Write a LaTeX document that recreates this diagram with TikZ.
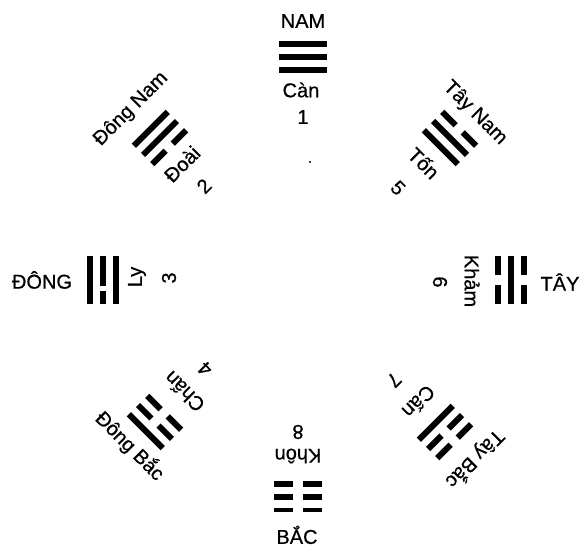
\documentclass[tikz,border=0pt]{standalone}
\usepackage{fontspec}
\setmainfont{Liberation Sans}[FakeBold=0.7]
% one line of a trigram: #1 = 0 broken, 1 solid, 2 broken and faint,
% 3 broken off-centre; #2 = offset from the middle line
\newcommand\yaoline[2]{%
  \ifcase#1\relax
    \draw[yao] (-24,#2) -- (-5,#2) (5,#2) -- (24,#2);
  \or
    \draw[yao] (-24,#2) -- (24,#2);
  \or
    \draw[yao,line width=3.5pt] (-24,#2) -- (-5,#2) (5,#2) -- (24,#2);
  \or
    \draw[yao] (-24,#2) -- (-11,#2) (-6,#2) -- (24,#2);
  \fi}
\begin{document}
\begin{tikzpicture}[x=1pt,y=1pt,
  yao/.style={line width=6pt,line cap=butt},
  lbl/.style={font=\fontsize{20}{22}\selectfont,inner sep=0pt},
  % lines listed from the outer one (nearest the direction) to the inner one
  pics/trigram/.style n args={3}{code={%
    \yaoline{#1}{13}\yaoline{#2}{0}\yaoline{#3}{-13}}}]
\useasboundingbox (0,0) rectangle (585,-551);

% South (top): Can
\pic[rotate=0]   at (303,-57)  {trigram={1}{1}{1}};
\node[lbl] (nam)  at (303,-21)  {NAM};
\node[lbl] (can)  at (301,-90)  {Càn};
\node[lbl] (n1)   at (303,-117) {1};
\fill (310,-162) circle (1.2);

% South-east (upper left): Doai
\pic[rotate=45]  at (160,-138) {trigram={1}{1}{0}};
\node[lbl,rotate=45] (dn)   at (131,-109) {Đông Nam};
\node[lbl,rotate=45] (doai) at (182,-164) {Đoài};
\node[lbl,rotate=45] (n2)   at (204,-186) {2};

% East (left): Ly
\pic[rotate=90]  at (103,-280) {trigram={1}{3}{1}};
\node[lbl] (dong) at (42,-280) {ĐÔNG};
\node[lbl,rotate=90] (ly) at (137,-277) {Ly};
\node[lbl,rotate=90] (n3) at (169,-278) {3};

% North-east (lower left): Chan
\pic[rotate=135] at (155,-422) {trigram={1}{0}{0}};
\node[lbl,rotate=-45] (db)   at (130,-446) {Đông Bắc};
\node[lbl,rotate=135] (chan) at (184,-392) {Chấn};
\node[lbl,rotate=135] (n4)   at (205,-369) {4};

% North (bottom): Khon
\pic[rotate=180] at (298,-497) {trigram={2}{0}{0}};
\node[lbl] (bac) at (297,-535) {BẮC};
\node[lbl,rotate=180] (khon) at (298,-456) {Khôn};
\node[lbl,rotate=180] (n8)   at (298,-432) {8};

% North-west (lower right): Can (mountain)
\pic[rotate=-135] at (445,-432) {trigram={0}{0}{1}};
\node[lbl,rotate=-135] (tb)  at (475,-459) {Tây Bắc};
\node[lbl,rotate=-135] (can2) at (419,-402) {Cấn};
\node[lbl,rotate=-135] (n7)  at (394,-380) {7};

% West (right): Kham
\pic[rotate=-90] at (511,-280) {trigram={0}{1}{0}};
\node[lbl] (tay) at (560,-282) {TÂY};
\node[lbl,rotate=-90] (kham) at (472,-281) {Khảm};
\node[lbl,rotate=-90] (n6)   at (440,-282) {6};

% South-west (upper right): Ton
\pic[rotate=-45] at (450,-138) {trigram={0}{1}{1}};
\node[lbl,rotate=-45] (tn)  at (475,-113) {Tây Nam};
\node[lbl,rotate=-45] (ton) at (424,-163) {Tốn};
\node[lbl,rotate=-45] (n5)  at (398,-188) {5};
\end{tikzpicture}
\end{document}
